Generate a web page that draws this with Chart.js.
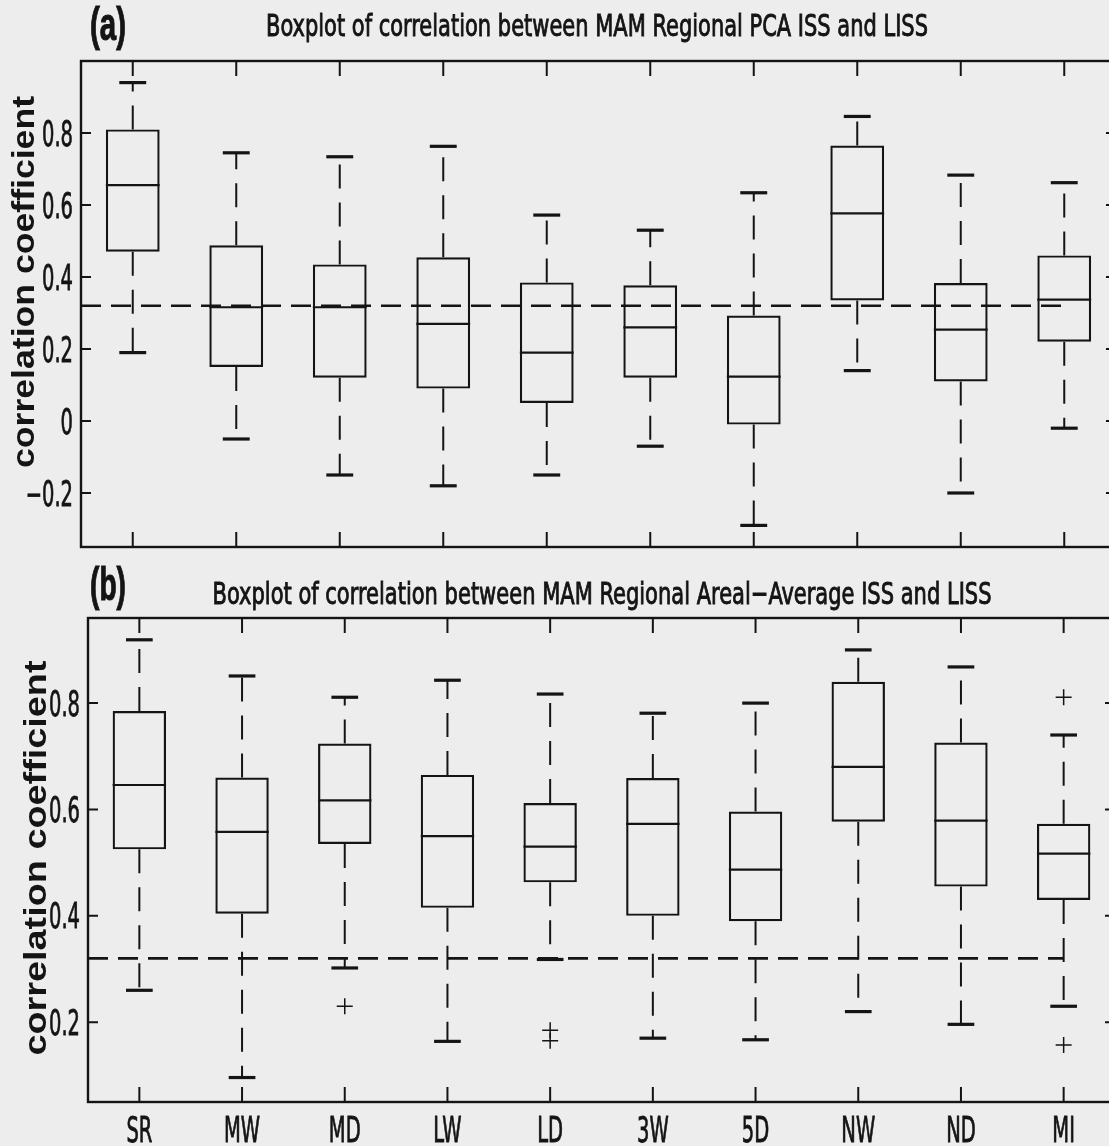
<!DOCTYPE html>
<html>
<head>
<meta charset="utf-8">
<title>Boxplot of correlation between MAM Regional ISS and LISS</title>
<script src="https://cdn.jsdelivr.net/npm/chart.js@4.4.1/dist/chart.umd.min.js"></script>
<style>
  html, body { margin: 0; padding: 0; background: #ededed; overflow: hidden; }
  #page { position: relative; width: 1109px; height: 1146px; overflow: hidden; }
  canvas { position: absolute; left: 0; }
</style>
</head>
<body>
<div id="page">
  <canvas id="chartA" width="1130" height="555" style="top:0"></canvas>
  <canvas id="chartB" width="1130" height="591" style="top:555px"></canvas>
</div>
<script>
const categories = ["SR", "MW", "MD", "LW", "LD", "3W", "5D", "NW", "ND", "MI"];
const threshold = 0.32;

// (a) regional PCA ISS vs LISS
const pcaLow    = [0.19, -0.05, -0.15, -0.18, -0.15, -0.07, -0.29, 0.14, -0.20, -0.02];
const pcaQ1     = [0.47, 0.15, 0.12, 0.09, 0.05, 0.12, -0.01, 0.335, 0.11, 0.22];
const pcaMedian = [0.655, 0.316, 0.316, 0.27, 0.19, 0.26, 0.123, 0.577, 0.254, 0.337];
const pcaQ3     = [0.81, 0.488, 0.435, 0.455, 0.385, 0.377, 0.293, 0.765, 0.383, 0.46];
const pcaHigh   = [0.94, 0.745, 0.734, 0.763, 0.572, 0.53, 0.634, 0.846, 0.683, 0.662];
const pcaOutlierCat = [];
const pcaOutlierVal = [];
const yTicksA = [-0.2, 0, 0.2, 0.4, 0.6, 0.8];
const yTickLabelsA = ["\u22120.2", "0", "0.2", "0.4", "0.6", "0.8"];

// (b) regional areal-average ISS vs LISS
const avgLow    = [0.26, 0.096, 0.302, 0.164, 0.318, 0.17, 0.167, 0.22, 0.196, 0.23];
const avgQ1     = [0.525, 0.404, 0.535, 0.415, 0.463, 0.40, 0.39, 0.577, 0.455, 0.43];
const avgMedian = [0.646, 0.558, 0.617, 0.55, 0.53, 0.573, 0.487, 0.68, 0.579, 0.517];
const avgQ3     = [0.785, 0.66, 0.724, 0.665, 0.612, 0.659, 0.596, 0.84, 0.726, 0.573];
const avgHigh   = [0.919, 0.851, 0.811, 0.843, 0.817, 0.781, 0.80, 0.90, 0.868, 0.74];
const avgOutlierCat = ["MD", "LD", "LD", "MI", "MI"];
const avgOutlierVal = [0.23, 0.185, 0.165, 0.811, 0.157];
const yTicksB = [0.2, 0.4, 0.6, 0.8];
const yTickLabelsB = ["0.2", "0.4", "0.6", "0.8"];

const titleA = "Boxplot of correlation between MAM Regional PCA ISS and LISS";
const titleB = "Boxplot of correlation between MAM Regional Areal\u2212Average ISS and LISS";
const yLabel = "correlation coefficient";

const INK = "#141414";
const NARROW = '"Liberation Sans Narrow", "DejaVu Sans Condensed", "Liberation Sans", sans-serif';
const SANS = '"Liberation Sans", Arial, sans-serif';

// scanned print: text is squeezed and a touch heavier, so stroke it lightly
function drawText(ctx, text, x, y, font, sx, sy, align, rotate, heavy) {
  ctx.save();
  ctx.font = font;
  ctx.textAlign = align;
  ctx.textBaseline = "alphabetic";
  ctx.translate(x, y);
  if (rotate) ctx.rotate(-Math.PI / 2);
  ctx.scale(sx, sy);
  ctx.fillText(text, 0, 0);
  if (heavy) {
    ctx.lineWidth = heavy;
    ctx.strokeStyle = ctx.fillStyle;
    ctx.strokeText(text, 0, 0);
  }
  ctx.restore();
}

function fitText(ctx, text, x, y, font, width, sy, align, rotate, heavy) {
  ctx.save();
  ctx.font = font;
  const sx = width / ctx.measureText(text).width;
  ctx.restore();
  drawText(ctx, text, x, y, font, sx, sy, align, rotate, heavy);
}

// half width (px) of a span given in category units
function halfPx(chart, units) {
  const x = chart.scales.x;
  return x.getPixelForValue(1 + units) - x.getPixelForValue(1);
}

function makeDecor(p) {
  return {
    id: "decor",
    afterDraw(chart) {
      const { ctx, chartArea: a } = chart;
      const xs = chart.scales.x, ys = chart.scales.y;
      ctx.save();
      ctx.strokeStyle = INK;
      ctx.fillStyle = INK;
      ctx.lineWidth = 2.4;
      ctx.strokeRect(a.left, a.top, a.right - a.left, a.bottom - a.top);

      // inward ticks on all four sides
      ctx.lineWidth = 2;
      ctx.beginPath();
      categories.forEach((c, i) => {
        const px = xs.getPixelForValue(i + 1);
        ctx.moveTo(px, a.top); ctx.lineTo(px, a.top + 15);
        ctx.moveTo(px, a.bottom); ctx.lineTo(px, a.bottom - 15);
      });
      p.yTicks.forEach(v => {
        const py = ys.getPixelForValue(v);
        ctx.moveTo(a.left, py); ctx.lineTo(a.left + 10, py);
        ctx.moveTo(a.right, py); ctx.lineTo(a.right - 10, py);
      });
      ctx.stroke();

      const tickFont = "35px " + NARROW;
      ctx.font = tickFont;
      const sx = 31 / ctx.measureText("0.8").width;
      p.yTicks.forEach((v, i) => {
        drawText(ctx, p.yTickLabels[i], a.left - 8, ys.getPixelForValue(v) + 12.5, tickFont, sx, 1, "right", false, 0.8);
      });
      if (p.showX) {
        categories.forEach((c, i) => {
          drawText(ctx, c, xs.getPixelForValue(i + 1), p.xLabelBase, tickFont, sx, 1, "center", false, 0.8);
        });
      }

      fitText(ctx, p.tag, p.tagX, p.tagBase, "bold 34px " + SANS, 36, 1.35, "center", false, 0.8);
      fitText(ctx, p.title, p.titleX, p.titleBase, "31px " + NARROW, p.titleW, 1, "center", false, 0.9);
      fitText(ctx, yLabel, p.ylabX, p.ylabY, "bold 31px " + SANS, p.ylabLen, 1, "center", true);
      ctx.restore();
    }
  };
}

function buildPanel(id, p) {
  const xs = categories.map((c, i) => i + 1);
  const whiskers = [];
  xs.forEach((x, i) => {
    whiskers.push({ x, y: p.q3[i] }, { x, y: p.high[i] }, { x, y: null });
    whiskers.push({ x, y: p.q1[i] }, { x, y: p.low[i] }, { x, y: null });
  });
  const caps = [];
  xs.forEach((x, i) => caps.push({ x, y: p.high[i] }, { x, y: p.low[i] }));
  const outliers = p.outCat.map((c, i) => ({ x: categories.indexOf(c) + 1, y: p.outVal[i] }));

  new Chart(document.getElementById(id), {
    type: "bar",
    data: {
      datasets: [
        {
          type: "line",
          data: [{ x: 0.5, y: threshold }, { x: 10, y: threshold }],
          borderColor: INK, borderWidth: 2.6, borderDash: [20, 10],
          pointRadius: 0, order: 5
        },
        {
          type: "line",
          data: whiskers,
          borderColor: INK, borderWidth: 2, borderDash: [24, 14],
          pointRadius: 0, spanGaps: false, order: 4
        },
        {
          type: "bar",
          data: xs.map((x, i) => ({ x, y: [p.q1[i], p.q3[i]] })),
          backgroundColor: "rgba(0,0,0,0)", borderColor: INK, borderWidth: 2.2,
          borderSkipped: false, categoryPercentage: 1, barPercentage: 0.52, order: 3
        },
        {
          type: "scatter",
          data: xs.map((x, i) => ({ x, y: p.med[i] })),
          pointStyle: "line", pointBorderColor: INK, pointBorderWidth: 2.2,
          pointRadius: ctx => halfPx(ctx.chart, 0.26), order: 2
        },
        {
          type: "scatter",
          data: caps,
          pointStyle: "line", pointBorderColor: INK, pointBorderWidth: 3.2,
          pointRadius: ctx => halfPx(ctx.chart, 0.13), order: 1
        },
        {
          type: "scatter",
          data: outliers,
          pointStyle: "cross", pointBorderColor: INK, pointBorderWidth: 1.5,
          pointRadius: 8, order: 0
        }
      ]
    },
    options: {
      responsive: false,
      animation: false,
      events: [],
      layout: { padding: p.padding },
      plugins: { legend: { display: false }, tooltip: { enabled: false }, title: { display: false } },
      scales: {
        x: {
          type: "linear", min: 0.5, max: 10.5, offset: false, display: false,
          afterBuildTicks: s => { s.ticks = categories.map((c, i) => ({ value: i + 1 })); }
        },
        y: {
          type: "linear", min: p.yMin, max: p.yMax, beginAtZero: false, display: false,
          afterBuildTicks: s => { s.ticks = p.yTicks.map(v => ({ value: v })); }
        }
      }
    },
    plugins: [makeDecor(p)]
  });
}

buildPanel("chartA", {
  low: pcaLow, q1: pcaQ1, med: pcaMedian, q3: pcaQ3, high: pcaHigh,
  outCat: pcaOutlierCat, outVal: pcaOutlierVal,
  yMin: -0.35, yMax: 1.0, yTicks: yTicksA, yTickLabels: yTickLabelsA,
  padding: { left: 81, top: 61, right: 14, bottom: 8 },
  tag: "(a)", tagX: 108, tagBase: 40,
  title: titleA, titleX: 597, titleBase: 36, titleW: 662,
  ylabX: 34, ylabY: 282, ylabLen: 372, showX: false
});

buildPanel("chartB", {
  low: avgLow, q1: avgQ1, med: avgMedian, q3: avgQ3, high: avgHigh,
  outCat: avgOutlierCat, outVal: avgOutlierVal,
  yMin: 0.05, yMax: 0.96, yTicks: yTicksB, yTickLabels: yTickLabelsB,
  padding: { left: 88, top: 63, right: 15, bottom: 44 },
  tag: "(b)", tagX: 108, tagBase: 45,
  title: titleB, titleX: 602, titleBase: 49, titleW: 779,
  ylabX: 46, ylabY: 303, ylabLen: 395, showX: true, xLabelBase: 587
});
</script>
</body>
</html>
